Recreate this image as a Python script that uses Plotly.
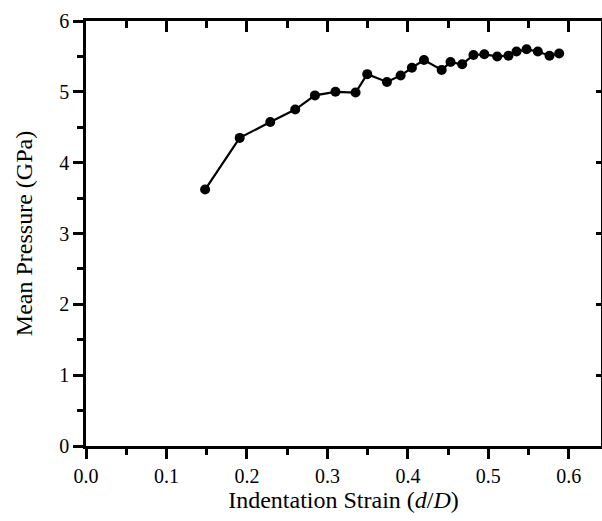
import plotly.graph_objects as go

strain = [0.148, 0.191, 0.229, 0.260, 0.2845, 0.310, 0.335, 0.3495, 0.374, 0.391,
          0.405, 0.420, 0.442, 0.453, 0.4675, 0.4815, 0.495, 0.511, 0.525, 0.535,
          0.5475, 0.5615, 0.576, 0.588]
pressure = [3.62, 4.35, 4.575, 4.75, 4.95, 5.00, 4.99, 5.25, 5.14, 5.23,
            5.34, 5.45, 5.31, 5.42, 5.39, 5.52, 5.53, 5.50, 5.51, 5.57,
            5.60, 5.57, 5.51, 5.54]

x_ticks = [0.0, 0.1, 0.2, 0.3, 0.4, 0.5, 0.6]
x_ticklabels = ["0.0", "0.1", "0.2", "0.3", "0.4", "0.5", "0.6"]
y_ticks = [0, 1, 2, 3, 4, 5, 6]
x_range = [0, 0.64]
y_range = [0, 6]

FONT = "Liberation Serif, Times New Roman, serif"

fig = go.Figure()
fig.add_trace(go.Scatter(
    x=strain, y=pressure, mode="lines+markers",
    line=dict(color="black", width=2.2),
    marker=dict(color="black", size=10),
    showlegend=False,
))
# invisible trace so the mirrored (top/right) axes are fully drawn
fig.add_trace(go.Scatter(
    x=[x_range[0]], y=[y_range[0]], xaxis="x2", yaxis="y2",
    mode="markers", marker=dict(opacity=0), showlegend=False, hoverinfo="skip",
))

common = dict(showline=True, linecolor="black", linewidth=2.5, showgrid=False,
              zeroline=False, tickcolor="black", tickwidth=2.5)

fig.update_layout(
    width=602, height=521,
    margin=dict(l=86, r=1, t=21, b=75),
    paper_bgcolor="white", plot_bgcolor="white",
    font=dict(family=FONT, size=20, color="black"),
    xaxis=dict(range=x_range, tickvals=x_ticks, ticktext=x_ticklabels,
               ticks="outside", ticklen=10,
               minor=dict(ticks="outside", ticklen=6, dtick=0.05, tickcolor="black", tickwidth=2.5),
               title=dict(text="Indentation Strain (<i>d</i>/<i>D</i>)", standoff=6),
               **common),
    yaxis=dict(range=y_range, tickvals=y_ticks, ticks="outside", ticklen=10,
               minor=dict(ticks="outside", ticklen=6, dtick=0.5, tickcolor="black", tickwidth=2.5),
               title=dict(text="Mean Pressure (GPa)", standoff=20),
               **common),
    xaxis2=dict(range=x_range, overlaying="x", side="top", anchor="y2",
                tickvals=x_ticks, showticklabels=False, ticks="inside", ticklen=11,
                minor=dict(ticks="inside", ticklen=7, dtick=0.05, tickcolor="black", tickwidth=2.5),
                **common),
    yaxis2=dict(range=y_range, overlaying="y", side="right", anchor="x2",
                tickvals=y_ticks, showticklabels=False, ticks="inside", ticklen=5,
                **common),
)

fig.write_html("out.html")
